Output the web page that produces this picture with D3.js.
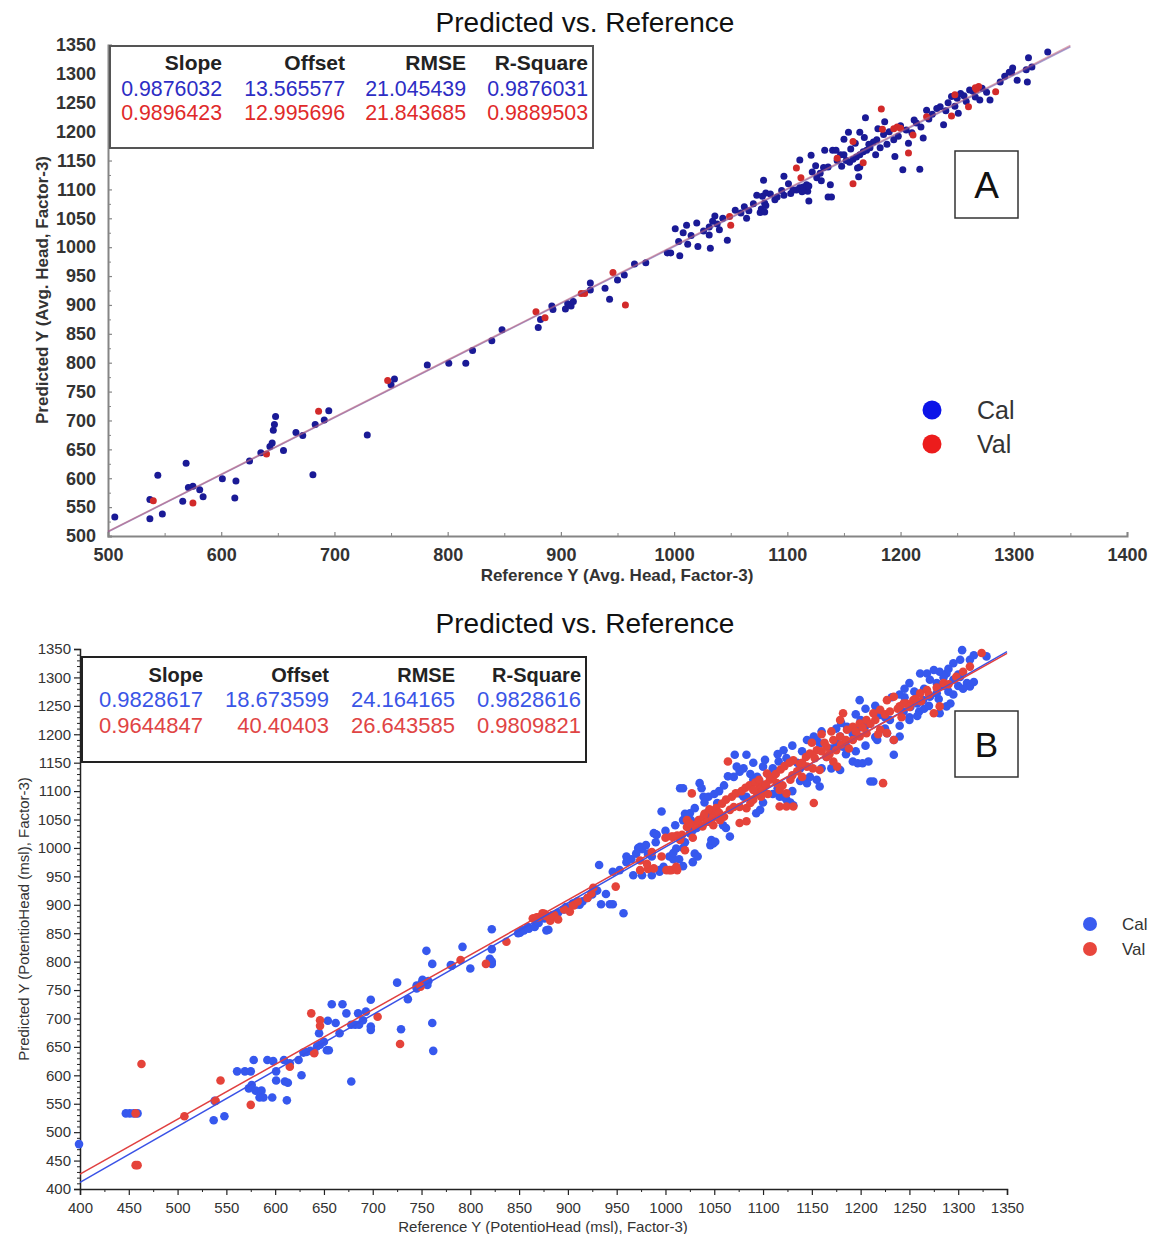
<!DOCTYPE html>
<html>
<head>
<meta charset="utf-8">
<script src="https://cdn.jsdelivr.net/npm/d3@7"></script>
<style>
body { margin: 0; background: #fff; }
text { font-family: "Liberation Sans", Arial, sans-serif; }
</style>
</head>
<body>
<script>
// ---- data ----
var statHeaders = ["Slope", "Offset", "RMSE", "R-Square"];
var statsA_cal = ["0.9876032", "13.565577", "21.045439", "0.9876031"];
var statsA_val = ["0.9896423", "12.995696", "21.843685", "0.9889503"];
var statsB_cal = ["0.9828617", "18.673599", "24.164165", "0.9828616"];
var statsB_val = ["0.9644847", "40.40403", "26.643585", "0.9809821"];
var fitA_cal = [0.9876032, 13.565577];   // slope, offset
var fitA_val = [0.9896423, 12.995696];
var fitB_cal = [0.9828617, 18.673599];
var fitB_val = [0.9644847, 40.40403];
var seriesNames = ["Cal", "Val"];
var panelLabels = ["A", "B"];
var titleText = "Predicted vs. Reference";
var xTitleA = "Reference Y (Avg. Head, Factor-3)";
var yTitleA = "Predicted Y (Avg. Head, Factor-3)";
var xTitleB = "Reference Y (PotentioHead (msl), Factor-3)";
var yTitleB = "Predicted Y (PotentioHead (msl), Factor-3)";

var xTicksA = [500, 600, 700, 800, 900, 1000, 1100, 1200, 1300, 1400];
var yTicksA = [500, 550, 600, 650, 700, 750, 800, 850, 900, 950, 1000, 1050, 1100, 1150, 1200, 1250, 1300, 1350];
var xTicksB = [400, 450, 500, 550, 600, 650, 700, 750, 800, 850, 900, 950, 1000, 1050, 1100, 1150, 1200, 1250, 1300, 1350];
var yTicksB = [400, 450, 500, 550, 600, 650, 700, 750, 800, 850, 900, 950, 1000, 1050, 1100, 1150, 1200, 1250, 1300, 1350];

// panel A  [reference, predicted]
var calA = [[506,533],[537,563],[537,530],[544,605],[548,538],[566,560],[569,626],[571,584],[575,586],[581,580],
[584,568],[601,599],[612,566],[613,595],[625,630],[635,644],[643,655],[645,661],[646,683],[647,693],
[648,707],[655,648],[666,679],[672,674],[681,606],[683,693],[691,701],[695,717],[729,675],[750,762],
[753,772],[782,796],[801,799],[816,799],[822,821],[839,838],[848,857],[880,861],[882,875],[892,898],
[893,892],[904,893],[906,902],[909,898],[911,906],[926,938],[926,926],[939,929],[943,910],[950,943],
[956,952],[965,971],[975,973],[994,990],[997,990],[1004,1010],[1005,985],[1001,1032],[1008,1025],[1011,1038],
[1020,1042],[1021,1001],[1031,1021],[1032,998],[1031,1035],[1034,1045],[1036,1054],[1038,1040],[1047,1012],[1054,1064],
[1059,1059],[1066,1063],[1073,1090],[1076,1060],[1077,1066],[1078,1088],[1080,1076],[1089,1082],[1097,1090],[1103,1093],
[1108,1099],[1113,1096],[1118,1097],[1079,1116],[1080,1061],[1081,1094],[1081,1072],[1091,1087],[1097,1123],[1105,1099],
[1111,1103],[1114,1104],[1117,1108],[1119,1106],[1119,1080],[1111,1151],[1121,1159],[1125,1141],[1129,1128],[1132,1138],
[1136,1139],[1136,1087],[1139,1087],[1138,1108],[1133,1168],[1140,1168],[1143,1168],[1147,1160],[1150,1160],[1150,1187],
[1154,1199],[1164,1199],[1152,1150],[1155,1147],[1158,1152],[1161,1156],[1164,1160],[1167,1165],[1170,1168],[1173,1172],
[1163,1122],[1162,1137],[1164,1139],[1169,1224],[1176,1182],[1179,1186],[1186,1217],[1194,1186],[1205,1203],[1214,1215],
[1223,1237],[1235,1243],[1245,1261],[1253,1266],[1261,1272],[1270,1255],[1202,1134],[1217,1135],[1195,1157],[1207,1180],
[1220,1189],[1238,1212],[1251,1232],[1279,1255],[1288,1286],[1292,1296],[1296,1303],[1299,1310],[1303,1289],[1312,1286],
[1313,1328],[1316,1312],[1330,1338],[1311,1307],[1298,1303],[1185,1195],[1190,1200],[1198,1192],[1200,1210],[1210,1198],
[1212,1220],[1218,1208],[1225,1222],[1228,1230],[1232,1240],[1240,1236],[1242,1250],[1248,1244],[1250,1258],[1256,1262],
[1258,1252],[1264,1270],[1266,1260],[1272,1275],[1276,1268],[1182,1172],[1178,1160],[1188,1178],[1144,1150],[1148,1140],
[1156,1170],[1160,1180],[1168,1190],[1172,1178],[1180,1205],[1126,1120],[1130,1115],[1122,1130],[1101,1110],[1095,1098],
[1085,1092],[1070,1075],[1062,1070],[1064,1050],[1043,1050],[1040,1030],[1026,1028],[1015,1020],[1012,1005]];

var valA = [[540,561],[575,557],[640,642],[686,716],[747,769],[878,888],[886,878],[918,920],[921,920],[946,956],
[957,900],[1049,1053],[1050,1038],[1108,1137],[1112,1120],[1144,1154],[1158,1183],[1158,1110],[1167,1146],[1183,1239],
[1184,1204],[1194,1205],[1197,1208],[1200,1206],[1207,1163],[1211,1194],[1223,1226],[1245,1227],[1248,1264],[1260,1243],
[1267,1273],[1269,1278],[1284,1269],[1266,1276]];

// panel B  [reference, predicted]
var calB = [[399,479],[447,533],[451,533],[455,533],[459,533],[537,521],[548,528],[538,555],[561,607],[569,607],
[575,607],[573,577],[576,583],[578,627],[580,573],[586,573],[584,561],[588,561],[592,627],[598,625],
[597,561],[601,607],[601,591],[609,627],[610,589],[613,587],[612,556],[615,621],[624,627],[627,600],
[629,640],[632,641],[636,643],[640,641],[643,651],[646,654],[645,674],[650,659],[653,644],[655,644],
[654,696],[658,725],[662,692],[666,674],[669,725],[673,709],[678,689],[682,689],[686,689],[678,589],
[685,709],[690,697],[693,712],[698,733],[698,686],[698,680],[725,763],[729,681],[736,734],[745,753],
[751,768],[755,819],[756,759],[761,796],[761,692],[762,643],[780,794],[792,826],[800,788],[822,857],
[822,822],[822,800],[822,796],[849,850],[853,855],[859,861],[878,855],[898,896],[905,902],[912,900],
[745,758],[750,762],[757,766],[781,793],[820,805],[851,851],[855,855],[860,858],[866,861],[880,856],
[870,868],[876,876],[884,880],[890,886],[896,892],[908,900],[915,906],[920,912],[925,918],[930,925],
[932,970],[934,901],[939,919],[943,901],[946,901],[957,885],[946,958],[953,961],[960,975],[965,980],
[972,1000],[976,998],[982,990],[986,985],[967,952],[976,952],[986,952],[990,1024],[994,958],[1004,985],
[1008,980],[1014,980],[1018,1000],[1020,1010],[1030,990],[1033,985],[1028,975],[1018,968],[1046,1005],[1049,1008],
[1018,1049],[1026,1049],[1034,1040],[1044,1046],[974,1002],[988,1026],[991,1023],[996,1064],[994,961],[998,967],
[1008,991],[1011,999],[1015,1105],[1018,1105],[1025,1026],[1028,1031],[1032,1035],[1035,1114],[1037,1105],[1039,1090],
[1044,1090],[1022,1055],[1025,1061],[1042,1061],[1046,1055],[1047,1014],[1051,1011],[1053,1079],[1059,1040],[1062,1035],
[1066,1020],[1064,1126],[1071,1164],[1073,1143],[1076,1134],[1076,1096],[1080,1090],[1083,1090],[1083,1164],[1087,1130],
[1090,1120],[1094,1125],[1097,1114],[1100,1143],[1093,1061],[1097,1067],[1117,1090],[1121,1090],[1124,1085],[1128,1080],
[1131,1075],[1121,1172],[1116,1152],[1124,1158],[1135,1150],[1138,1140],[1141,1145],[1138,1118],[1145,1114],[1152,1196],
[1155,1190],[1158,1184],[1155,1120],[1158,1108],[1179,1196],[1182,1178],[1179,1137],[1186,1213],[1192,1201],[1196,1208],
[1192,1152],[1197,1149],[1202,1149],[1208,1152],[1210,1117],[1213,1117],[1217,1190],[1199,1260],[1220,1234],[1225,1230],
[1230,1225],[1227,1202],[1234,1190],[1240,1196],[1234,1164],[1244,1240],[1251,1248],[1258,1254],[1264,1260],[1271,1266],
[1278,1272],[1261,1307],[1268,1307],[1275,1313],[1281,1310],[1288,1307],[1281,1237],[1288,1249],[1292,1254],[1271,1296],
[1278,1290],[1295,1296],[1302,1301],[1309,1290],[1312,1284],[1316,1292],[1295,1325],[1302,1331],[1304,1348],[1312,1331],
[1316,1339],[1329,1337],[1105,1130],[1110,1140],[1140,1170],[1165,1160],[1170,1175],[1175,1185],[1185,1180],[1200,1225],
[1205,1215],[1245,1265],[1250,1225],[1255,1275],[1260,1240],[1265,1280],[1285,1285],[1290,1275],[1300,1285],
[1100,1080],[1110,1095],[1115,1105],[1130,1100],[1148,1125],[1160,1140],[1170,1140],[1185,1165],[1195,1170],[1205,1180],
[1215,1195],[1225,1210],[1240,1215],[1250,1230],[1258,1232],[1265,1245],[1270,1250],[1280,1262],[1295,1270],[1305,1280],
[1300,1305],[1290,1315],[1285,1300],[1250,1290],[1245,1280],[1240,1270],[1232,1265],[1215,1250],[1205,1245],[1195,1235],
[1180,1220],[1175,1210],[1160,1205],[1145,1190],[1130,1180],[1115,1165],[1102,1155],[1090,1150],[1080,1140],[1070,1125],
[1060,1110],[1055,1100],[1050,1095],[1040,1080],[1030,1070],[1020,1060],[1010,1040],[1000,1030],[990,1010],[980,1005],
[970,990],[960,985]];

var valB = [[463,620],[457,533],[457,442],[459,442],[507,528],[544,591],[539,555],[575,548],[615,615],[637,709],
[646,697],[646,687],[640,639],[705,703],[728,655],[749,756],[790,803],[816,796],[837,835],[865,876],
[870,878],[876,884],[880,880],[886,882],[882,872],[902,888],[906,899],[864,876],[868,878],[874,885],
[878,880],[884,882],[890,874],[896,892],[905,900],[910,906],[920,912],[924,920],[926,930],[949,932],
[974,961],[982,963],[986,993],[996,985],[1000,1018],[1006,1020],[1012,1022],[1017,1023],[1004,961],[1012,961],
[1020,996],[1028,1018],[1022,1037],[1030,1040],[1038,1038],[1049,1040],[974,978],[981,972],[988,964],[1001,961],
[1006,961],[1011,967],[1008,1020],[1015,1014],[1022,1049],[1025,1043],[1027,1096],[1034,1049],[1039,1055],[1042,1046],
[1049,1061],[1056,1049],[1064,1152],[1066,1067],[1070,1072],[1076,1072],[1083,1070],[1076,1044],[1083,1047],[1087,1079],
[1090,1085],[1094,1096],[1097,1108],[1104,1131],[1107,1120],[1114,1114],[1117,1102],[1124,1096],[1117,1073],[1124,1073],
[1131,1073],[1152,1079],[1131,1154],[1138,1148],[1145,1143],[1151,1140],[1158,1137],[1155,1172],[1165,1178],[1172,1190],
[1179,1196],[1165,1160],[1172,1152],[1176,1143],[1182,1237],[1179,1225],[1186,1208],[1192,1213],[1199,1219],[1206,1225],
[1192,1190],[1199,1196],[1206,1202],[1213,1237],[1220,1243],[1227,1260],[1234,1266],[1240,1249],[1247,1254],[1220,1208],
[1227,1202],[1234,1190],[1244,1254],[1254,1260],[1261,1272],[1268,1278],[1275,1237],[1281,1249],[1298,1301],[1305,1310],
[1312,1319],[1324,1343],[1223,1114],
[1040,1060],[1045,1068],[1052,1070],[1058,1078],[1062,1085],[1068,1090],[1072,1096],[1078,1100],[1082,1106],[1086,1110],
[1092,1115],[1096,1120],[1100,1102],[1103,1112],[1110,1125],[1113,1130],[1118,1138],[1122,1144],[1127,1150],[1130,1128],
[1135,1135],[1140,1125],[1144,1160],[1148,1166],[1153,1158],[1160,1170],[1163,1185],[1168,1165],[1175,1172],[1180,1182],
[1185,1190],[1188,1175],[1195,1205],[1202,1212],[1210,1218],[1215,1225],[1218,1200],[1225,1235],[1230,1240],[1238,1245],
[1242,1230],[1250,1248],[1256,1262],[1262,1258],[1270,1270],[1278,1282],[1285,1290],[1290,1288],[1160,1200],[1150,1185],
[1105,1095],[1098,1090],[1090,1102],[1060,1055],[1055,1062],[1048,1052],[1120,1110],[1128,1120],[1140,1150],[1170,1205]];

var svg = d3.select("body").append("svg")
    .attr("width", 1152)
    .attr("height", 1234);

svg.append("rect").attr("width", 1152).attr("height", 1234).attr("fill", "#fff");

var panels = [
  {
    x: d3.scaleLinear().domain([500, 1400]).range([108, 1127]),
    y: d3.scaleLinear().domain([500, 1350]).range([536, 45]),
    xTicks: xTicksA, yTicks: yTicksA, xMinorStep: 50, yMinorStep: 25,
    axisColor: "#858585", axisWidth: 2, tickFont: "bold 18px", tickIn: true,
    tickSize: 4, xPad: 4, yPad: 4,
    title: [585, 32], titleSize: 28,
    xTitle: xTitleA, yTitle: yTitleA, xTitlePos: [617, 581], yTitlePos: [48, 290],
    axisTitleFont: "bold", axisTitleSize: 17,
    cal: calA, val: valA, fitCal: fitA_cal, fitVal: fitA_val, lineRange: [500, 1350],
    calColor: "#1a1a96", valColor: "#d22a2a", r: 3.5,
    calLine: "#5a4aa8", valLine: "#c0607a", lineOpacity: 0.55, lineWidth: 1.6,
    box: [110, 46, 483, 102], cols: [222, 345, 466, 588], rows: [70, 96, 120],
    headSize: 21, valSize: 22, valScale: 0.97, statCal: statsA_cal, statVal: statsA_val,
    statBlue: "#2d2dc4", statRed: "#e02a2a", boxStroke: "#555",
    label: panelLabels[0], labelBox: [955, 151, 63, 67], labelSize: 37,
    legend: [932, 410, 444], legendR: 9.5, legendText: 977, legendSize: 25,
    legendBlue: "#0c14e8", legendRed: "#ec1c1c"
  },
  {
    x: d3.scaleLinear().domain([400, 1350]).range([80, 1007]),
    y: d3.scaleLinear().domain([400, 1350]).range([1189, 649]),
    xTicks: xTicksB, yTicks: yTicksB, xMinorStep: 25, yMinorStep: 10,
    axisColor: "#222", axisWidth: 1.5, tickFont: "normal 15px", tickIn: false,
    tickSize: 6, xPad: 7, yPad: 3,
    title: [585, 633], titleSize: 28,
    xTitle: xTitleB, yTitle: yTitleB, xTitlePos: [543, 1232], yTitlePos: [29, 919],
    axisTitleFont: "normal", axisTitleSize: 15,
    cal: calB, val: valB, fitCal: fitB_cal, fitVal: fitB_val, lineRange: [400, 1350],
    calColor: "#3658ee", valColor: "#e5433a", r: 4.3,
    calLine: "#3a52e6", valLine: "#e04040", lineOpacity: 1, lineWidth: 1.5,
    box: [82, 657, 504, 105], cols: [203, 329, 455, 581], rows: [682, 707, 733],
    headSize: 20, valSize: 22, valScale: 1, statCal: statsB_cal, statVal: statsB_val,
    statBlue: "#3a55e6", statRed: "#e04444", boxStroke: "#222",
    label: panelLabels[1], labelBox: [955, 711, 63, 66], labelSize: 35,
    legend: [1090, 924, 949], legendR: 7, legendText: 1122, legendSize: 17,
    legendBlue: "#3a5cf0", legendRed: "#e8463c"
  }
];

panels.forEach(function(p) {
  var g = svg.append("g");
  var x = p.x, y = p.y;
  var x0 = x.range()[0], y0 = y.range()[0];
  var sz = p.tickFont.split(" ");

  // title
  g.append("text")
    .attr("x", p.title[0]).attr("y", p.title[1])
    .attr("text-anchor", "middle")
    .style("font-size", p.titleSize + "px")
    .attr("fill", "#111")
    .text(titleText);

  // minor ticks
  var xd = x.domain(), yd = y.domain();
  var xMinor = d3.range(xd[0], xd[1] + 1, p.xMinorStep).filter(function(v) { return p.xTicks.indexOf(v) < 0; });
  var yMinor = d3.range(yd[0], yd[1] + 1, p.yMinorStep).filter(function(v) { return p.yTicks.indexOf(v) < 0; });
  var minorLen = p.tickIn ? -3 : 3;
  g.append("g").attr("transform", "translate(0," + y0 + ")")
    .call(d3.axisBottom(x).tickValues(xMinor).tickSize(minorLen).tickFormat(""))
    .call(function(a) { a.select(".domain").remove(); a.selectAll("line").attr("stroke", p.axisColor); });
  g.append("g").attr("transform", "translate(" + x0 + ",0)")
    .call(d3.axisLeft(y).tickValues(yMinor).tickSize(minorLen).tickFormat(""))
    .call(function(a) { a.select(".domain").remove(); a.selectAll("line").attr("stroke", p.axisColor); });

  // main axes
  var fmt = d3.format("d");
  var xAxis = d3.axisBottom(x).tickValues(p.xTicks).tickFormat(fmt).tickSizeOuter(0)
      .tickSize(p.tickIn ? -p.tickSize : p.tickSize)
      .tickPadding(p.tickIn ? p.tickSize + p.xPad + p.tickSize : p.xPad);
  var yAxis = d3.axisLeft(y).tickValues(p.yTicks).tickFormat(fmt).tickSizeOuter(0)
      .tickSize(p.tickIn ? -p.tickSize : p.tickSize)
      .tickPadding(p.tickIn ? p.tickSize + p.yPad + p.tickSize : p.yPad);

  [ [xAxis, "translate(0," + y0 + ")"], [yAxis, "translate(" + x0 + ",0)"] ].forEach(function(a) {
    g.append("g").attr("transform", a[1]).call(a[0])
      .call(function(s) {
        s.select(".domain").attr("stroke", p.axisColor).attr("stroke-width", p.axisWidth);
        s.selectAll(".tick line").attr("stroke", p.axisColor).attr("stroke-width", 1.2);
        s.selectAll("text")
          .attr("fill", "#333")
          .style("font-family", '"Liberation Sans", Arial, sans-serif')
          .style("font-weight", sz[0])
          .style("font-size", sz[1]);
      });
  });

  // axis titles
  g.append("text")
    .attr("x", p.xTitlePos[0]).attr("y", p.xTitlePos[1])
    .attr("text-anchor", "middle")
    .style("font-size", p.axisTitleSize + "px").style("font-weight", p.axisTitleFont)
    .attr("fill", "#333")
    .text(p.xTitle);
  g.append("text")
    .attr("transform", "translate(" + p.yTitlePos[0] + "," + p.yTitlePos[1] + ") rotate(-90)")
    .attr("text-anchor", "middle")
    .style("font-size", p.axisTitleSize + "px").style("font-weight", p.axisTitleFont)
    .attr("fill", "#333")
    .text(p.yTitle);

  // points
  g.append("g").selectAll("circle").data(p.cal).join("circle")
    .attr("cx", function(d) { return x(d[0]); })
    .attr("cy", function(d) { return y(d[1]); })
    .attr("r", p.r).attr("fill", p.calColor);
  g.append("g").selectAll("circle").data(p.val).join("circle")
    .attr("cx", function(d) { return x(d[0]); })
    .attr("cy", function(d) { return y(d[1]); })
    .attr("r", p.r).attr("fill", p.valColor);

  // fit lines
  var line = d3.line().x(function(d) { return x(d[0]); }).y(function(d) { return y(d[1]); });
  [[p.fitCal, p.calLine], [p.fitVal, p.valLine]].forEach(function(f) {
    var pts = p.lineRange.map(function(v) { return [v, f[0][0] * v + f[0][1]]; });
    g.append("path").attr("d", line(pts))
      .attr("fill", "none").attr("stroke", f[1])
      .attr("stroke-width", p.lineWidth).attr("stroke-opacity", p.lineOpacity);
  });

  // stats box
  g.append("rect")
    .attr("x", p.box[0]).attr("y", p.box[1]).attr("width", p.box[2]).attr("height", p.box[3])
    .attr("fill", "#fff").attr("stroke", p.boxStroke).attr("stroke-width", 2);
  statHeaders.forEach(function(h, i) {
    g.append("text").attr("x", p.cols[i]).attr("y", p.rows[0])
      .attr("text-anchor", "end").style("font-weight", "bold")
      .style("font-size", p.headSize + "px").attr("fill", "#222").text(h);
  });
  [[p.statCal, p.statBlue, p.rows[1]], [p.statVal, p.statRed, p.rows[2]]].forEach(function(r) {
    r[0].forEach(function(v, i) {
      g.append("text")
        .attr("transform", "translate(" + p.cols[i] + "," + r[2] + ") scale(" + p.valScale + ",1)")
        .attr("text-anchor", "end")
        .style("font-size", p.valSize + "px").attr("fill", r[1]).text(v);
    });
  });

  // panel letter
  g.append("rect")
    .attr("x", p.labelBox[0]).attr("y", p.labelBox[1]).attr("width", p.labelBox[2]).attr("height", p.labelBox[3])
    .attr("fill", "#fff").attr("stroke", "#333").attr("stroke-width", 1.5);
  g.append("text")
    .attr("x", p.labelBox[0] + p.labelBox[2] / 2)
    .attr("y", p.labelBox[1] + p.labelBox[3] / 2 + p.labelSize * 0.36)
    .attr("text-anchor", "middle").style("font-size", p.labelSize + "px").attr("fill", "#111")
    .text(p.label);

  // legend
  [[p.legendBlue, p.legend[1], seriesNames[0]], [p.legendRed, p.legend[2], seriesNames[1]]].forEach(function(l) {
    g.append("circle").attr("cx", p.legend[0]).attr("cy", l[1]).attr("r", p.legendR).attr("fill", l[0]);
    g.append("text").attr("x", p.legendText).attr("y", l[1] + p.legendSize * 0.35)
      .style("font-size", p.legendSize + "px").attr("fill", "#333").text(l[2]);
  });
});
</script>
</body>
</html>
